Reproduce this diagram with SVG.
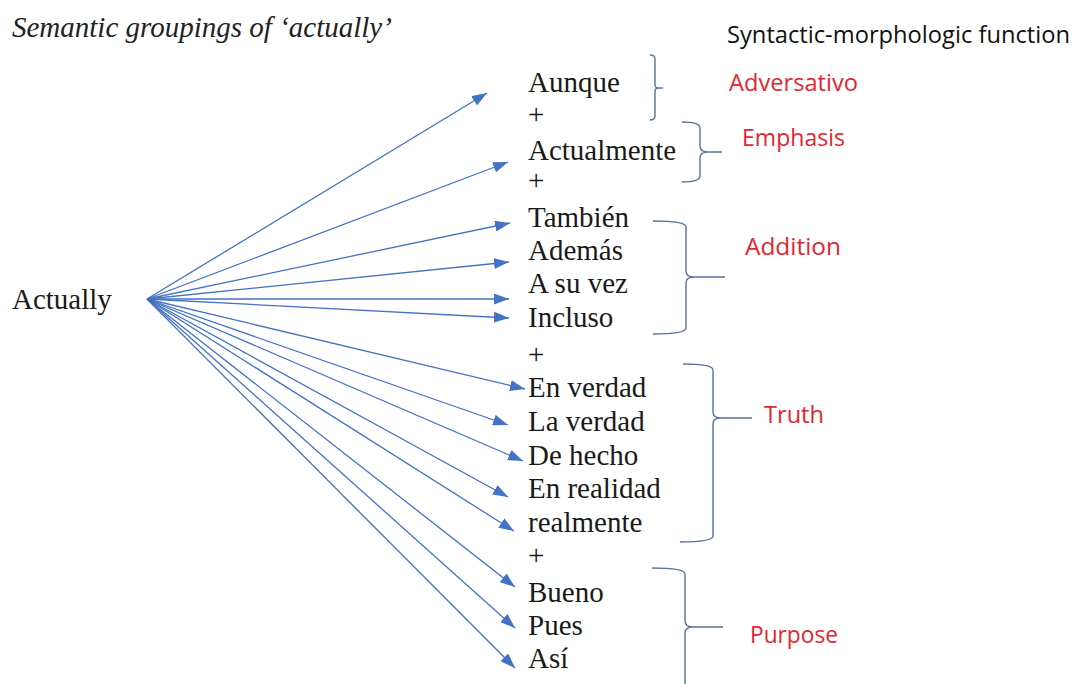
<svg xmlns="http://www.w3.org/2000/svg" width="1076" height="684" viewBox="0 0 1076 684">
  <style>
    .serif { font-family: "Liberation Serif", "Times New Roman", serif; font-size: 29px; fill: #1a1a1a; }
    .title { font-family: "Liberation Serif", "Times New Roman", serif; font-size: 29px; font-style: italic; fill: #222; }
    .head { font-family: "Open Sans", "Liberation Sans", sans-serif; font-size: 23px; fill: #111; }
    .fn { font-family: "Open Sans", "Liberation Sans", sans-serif; font-size: 23.5px; fill: #e2262f; }
    .arrow { stroke: #4472c4; stroke-width: 1.3; fill: none; marker-end: url(#tri); }
    .brace { stroke: #54739f; stroke-width: 1.4; fill: none; }
  </style>
  <defs>
    <marker id="tri" markerUnits="userSpaceOnUse" markerWidth="15" markerHeight="11" refX="15" refY="5.5" orient="auto">
      <path d="M0,0 L15,5.5 L0,11 z" fill="#4472c4"/>
    </marker>
  </defs>
  <rect width="1076" height="684" fill="#ffffff"/>

  <text class="title" x="12" y="37">Semantic groupings of ‘actually’</text>
  <text class="head" x="727" y="43" textLength="343" lengthAdjust="spacingAndGlyphs">Syntactic-morphologic function</text>

  <g id="source">
    <text class="serif" x="12" y="309">Actually</text>
  </g>

  <!-- fan of arrows from "Actually" to each expression -->
  <g id="connectors">
    <line class="arrow" x1="147" y1="299" x2="487" y2="93"/>
    <line class="arrow" x1="147" y1="299" x2="508" y2="162"/>
    <line class="arrow" x1="147" y1="299" x2="510" y2="223"/>
    <line class="arrow" x1="147" y1="299" x2="509" y2="262"/>
    <line class="arrow" x1="147" y1="299" x2="509" y2="299"/>
    <line class="arrow" x1="147" y1="299" x2="509" y2="318"/>
    <line class="arrow" x1="147" y1="299" x2="525" y2="389"/>
    <line class="arrow" x1="147" y1="299" x2="508" y2="425"/>
    <line class="arrow" x1="147" y1="299" x2="523" y2="461"/>
    <line class="arrow" x1="147" y1="299" x2="508" y2="497"/>
    <line class="arrow" x1="147" y1="299" x2="514" y2="531"/>
    <line class="arrow" x1="147" y1="299" x2="515" y2="587"/>
    <line class="arrow" x1="147" y1="299" x2="515" y2="628"/>
    <line class="arrow" x1="147" y1="299" x2="515" y2="668"/>
  </g>

  <g id="expressions">
    <text class="serif" x="528" y="92">Aunque</text>
    <text class="serif" x="528" y="124">+</text>
    <text class="serif" x="528" y="160">Actualmente</text>
    <text class="serif" x="528" y="190">+</text>
    <text class="serif" x="528" y="227">También</text>
    <text class="serif" x="528" y="260">Además</text>
    <text class="serif" x="528" y="293">A su vez</text>
    <text class="serif" x="528" y="327">Incluso</text>
    <text class="serif" x="528" y="364">+</text>
    <text class="serif" x="528" y="397">En verdad</text>
    <text class="serif" x="528" y="431">La verdad</text>
    <text class="serif" x="528" y="465">De hecho</text>
    <text class="serif" x="528" y="498">En realidad</text>
    <text class="serif" x="528" y="532">realmente</text>
    <text class="serif" x="528" y="565">+</text>
    <text class="serif" x="528" y="602">Bueno</text>
    <text class="serif" x="528" y="635">Pues</text>
    <text class="serif" x="528" y="668">Así</text>
  </g>

  <!-- grouping braces -->
  <g id="brace-adversativo">
    <path class="brace" d="M650,55 Q655,55 655,59 L655,85 Q655,88 659,88 Q655,88 655,91 L655,116 Q655,120 650,120 M659,88 H663"/>
  </g>
  <g id="brace-emphasis">
    <path class="brace" d="M682,122 Q700,122 700,128 L700,146 Q700,152 708,152 Q700,152 700,158 L700,176 Q700,182 682,182 M708,152 H722"/>
  </g>
  <g id="brace-addition">
    <path class="brace" d="M653,221 Q686,221 686,227 L686,271 Q686,277 694,277 Q686,277 686,283 L686,328 Q686,334 653,334 M694,277 H725"/>
  </g>
  <g id="brace-truth">
    <path class="brace" d="M683,364 Q713,364 713,370 L713,412 Q713,418 721,418 Q713,418 713,424 L713,536 Q713,542 680,542 M721,418 H752"/>
  </g>
  <g id="brace-purpose">
    <path class="brace" d="M652,568 Q685,568 685,574 L685,621 Q685,627 693,627 Q685,627 685,633 L685,694 M693,627 H723"/>
  </g>

  <g id="functions">
    <text class="fn" x="729" y="91" textLength="129" lengthAdjust="spacingAndGlyphs">Adversativo</text>
    <text class="fn" x="742" y="146" textLength="103" lengthAdjust="spacingAndGlyphs">Emphasis</text>
    <text class="fn" x="745" y="255" textLength="96" lengthAdjust="spacingAndGlyphs">Addition</text>
    <text class="fn" x="764" y="423" textLength="60" lengthAdjust="spacingAndGlyphs">Truth</text>
    <text class="fn" x="750" y="643" textLength="88" lengthAdjust="spacingAndGlyphs">Purpose</text>
  </g>
</svg>
